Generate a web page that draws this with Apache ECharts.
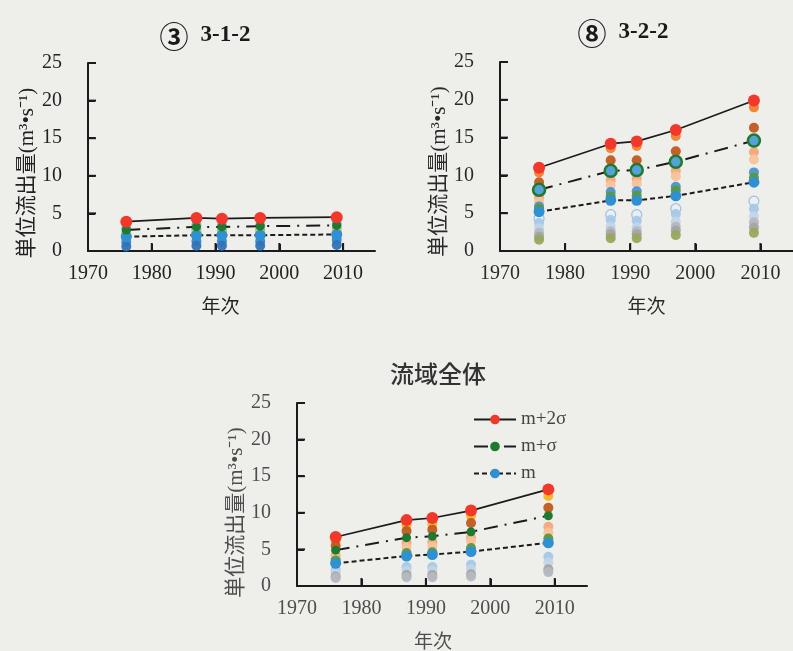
<!DOCTYPE html>
<html>
<head>
<meta charset="utf-8">
<script src="https://cdn.jsdelivr.net/npm/echarts@6/dist/echarts.min.js"></script>
<style>
  html, body { margin: 0; padding: 0; background: #eeeeeb; }
  #chart { width: 793px; height: 651px; }
</style>
</head>
<body>
<div id="chart"></div>
<script>
// ---- shared axes ----
const years = [1976, 1987, 1991, 1997, 2009];
const yearTicks = [1970, 1980, 1990, 2000, 2010];
const flowTicks = [0, 5, 10, 15, 20, 25];
const legendNames = ['m+2σ', 'm+σ', 'm'];
const yName = '単位流出量(m³•s⁻¹)';
const xName = '年次';

// ---- ③ 3-1-2 ----
const m2s312 = [3.9, 4.4, 4.3, 4.4, 4.5];
const ms312 = [2.8, 3.2, 3.2, 3.3, 3.4];
const m312 = [1.9, 2.1, 2.1, 2.1, 2.2];
const sky312 = [3.0, 3.4, 3.4, 3.4, 3.6];
const lime312 = [2.4, 2.8, 2.8, 2.8, 3.1];
const pale312 = [2.1, 2.4, 2.4, 2.4, 2.6];
const peach312 = [1.8, 2.0, 2.0, 2.0, 2.4];
const blue312 = [1.2, 1.3, 1.3, 1.3, 1.5];
const navy312 = [0.6, 0.7, 0.7, 0.7, 0.8];

// ---- ⑧ 3-2-2 ----
const m2s322 = [11.0, 14.2, 14.5, 16.0, 19.9];
const ms322 = [8.1, 10.6, 10.7, 11.8, 14.6];
const m322 = [5.2, 6.7, 6.7, 7.3, 9.1];
const orange322 = [10.4, 13.6, 13.9, 15.2, 19.0];
const brown322 = [9.1, 12.0, 12.0, 13.2, 16.3];
const peach322 = [7.1, 9.4, 9.6, 10.6, 13.1];
const salmon322 = [6.5, 8.7, 8.9, 9.9, 12.1];
const steel322 = [5.9, 7.8, 7.9, 8.5, 10.4];
const green322 = [5.6, 7.2, 7.3, 8.0, 9.7];
const white322 = [4.3, 4.8, 4.8, 5.6, 6.6];
const lightblue322 = [3.7, 4.1, 4.0, 4.9, 5.6];
const paleblue322 = [3.0, 3.2, 3.1, 3.9, 4.6];
const greyblue322 = [2.4, 2.6, 2.6, 3.2, 3.8];
const grey322 = [1.9, 2.2, 2.2, 2.7, 3.1];
const olive322 = [1.5, 1.7, 1.7, 2.1, 2.4];

// ---- 流域全体 ----
const m2sAll = [6.7, 9.0, 9.3, 10.3, 13.2];
const msAll = [4.9, 6.6, 6.8, 7.4, 9.6];
const mAll = [3.1, 4.1, 4.3, 4.7, 5.9];
const amberAll = [6.1, 8.3, 8.5, 9.6, 12.3];
const brownAll = [5.5, 7.5, 7.7, 8.6, 10.7];
const peachAll = [4.2, 5.9, 6.0, 6.6, 8.1];
const salmonAll = [3.8, 5.3, 5.4, 6.1, 7.3];
const greenAll = [3.5, 4.5, 4.6, 5.2, 6.5];
const lightblueAll = [2.2, 2.6, 2.6, 2.9, 4.0];
const palebuleAll = [1.8, 2.1, 2.1, 2.3, 3.2];
const greyAll = [1.3, 1.5, 1.5, 1.6, 2.3];
const oliveAll = [1.1, 1.2, 1.2, 1.3, 1.9];

// ---- styling ----
const SERIF = "'Liberation Serif', 'Noto Sans CJK JP', serif";
const CJK = "'Noto Sans CJK JP', sans-serif";
const INK = '#1b1b1b';

const tone = {
  red: '#f2382b', mgreen: '#1f7a2f', mblue: '#2f90d2',
  sky: '#6aa6dc', lime: '#8cc63f', pale: '#a9d18e', blue: '#3a86cc', navy: '#2f73b8',
  orange: '#ef7f2c', amber: '#f4b41f', brown: '#c1591d', peach: '#f4a57c', salmon: '#f7c39b',
  steel: '#4b91d2', green: '#5a9a34', white: '#e7eef6', lightblue: '#a5c8e8',
  paleblue: '#c2d4e6', greyblue: '#b3b9c0', grey: '#a4a4a4', olive: '#97a85c'
};

const grids = [
  { left: 88, top: 63, width: 287, height: 188 },
  { left: 500, top: 62, width: 296, height: 189 },
  { left: 297, top: 403, width: 290, height: 183 }
];
const labelInk = ['#222', '#2a2a2a', '#4d4d4d'];
const yNameGap = [43, 37, 46];
const yNameShift = [32, 30, 36];
const xNameShift = [22, 0, 18];

function pairs(values) {
  return years.map((y, i) => [y, values[i]]).filter(p => p[1] != null);
}

const tickStyle = { show: true, inside: true, length: 7, lineStyle: { color: INK, width: 2 } };

function xAxisFor(i) {
  return {
    type: 'value', gridIndex: i, min: 1970, max: 2015, interval: 10,
    axisLine: { show: true, onZero: false, lineStyle: { color: INK, width: 2 } },
    axisTick: tickStyle,
    axisLabel: { showMaxLabel: false,
      formatter: v => (yearTicks.indexOf(v) >= 0 ? String(v) : ''), margin: 13,
      fontFamily: SERIF, fontSize: 20, color: labelInk[i] },
    splitLine: { show: false },
    name: xName, nameLocation: 'middle', nameGap: 45,
    nameTextStyle: { fontFamily: CJK, fontSize: 19, color: labelInk[i], padding: [0, xNameShift[i], 0, 0] }
  };
}

function yAxisFor(i) {
  return {
    type: 'value', gridIndex: i, min: 0, max: 25, interval: 5,
    axisLine: { show: true, onZero: false, lineStyle: { color: INK, width: 2 } },
    axisTick: tickStyle,
    axisLabel: { formatter: v => (flowTicks.indexOf(v) >= 0 ? String(v) : ''), margin: 26,
      fontFamily: SERIF, fontSize: 20, color: labelInk[i] },
    splitLine: { show: false },
    name: yName, nameLocation: 'middle', nameRotate: 90, nameGap: yNameGap[i],
    nameTextStyle: { fontFamily: SERIF, fontSize: 21, color: labelInk[i], padding: [0, yNameShift[i], 0, 0] }
  };
}

// short inward tick marks placed on the axes through the grid's own scales
function tickMarks(i) {
  const onX = yearTicks.slice(1).map(v => [v, 0]);
  const onY = flowTicks.slice(1).map(v => [yearTicks[0], v]);
  const base = { type: 'scatter', xAxisIndex: i, yAxisIndex: i, symbol: 'rect', silent: true,
    clip: false, z: 6, itemStyle: { color: INK, opacity: 1 } };
  return [
    Object.assign({}, base, { data: onX, symbolSize: [2, 8], symbolOffset: [0, -4] }),
    Object.assign({}, base, { data: onY, symbolSize: [8, 2], symbolOffset: [4, 0] })
  ];
}

function dots(i, values, color, size, border) {
  return {
    type: 'scatter', xAxisIndex: i, yAxisIndex: i, data: pairs(values),
    symbol: 'circle', symbolSize: size || 10, z: 2, silent: true,
    itemStyle: { color: color, opacity: 0.95, borderColor: border || color, borderWidth: border ? 1.2 : 0 }
  };
}

function statLine(i, name, values, kind, marker) {
  const dash = kind === 'solid' ? 'solid' : (kind === 'dashdot' ? [14, 7, 2, 7] : [5, 3]);
  return Object.assign({
    type: 'line', name: name, xAxisIndex: i, yAxisIndex: i, data: pairs(values),
    symbol: 'circle', z: 4,
    lineStyle: { color: INK, width: kind === 'solid' ? 1.6 : 2, type: dash },
    emphasis: { disabled: true }
  }, marker);
}

const redMark = { symbolSize: 12, itemStyle: { color: tone.red } };
const greenMark = { symbolSize: 9, itemStyle: { color: tone.mgreen } };
const ringMark = { symbolSize: 12, itemStyle: { color: '#55a2d8', borderColor: tone.mgreen, borderWidth: 2.5 } };
const blueMark = { symbolSize: 11, itemStyle: { color: tone.mblue } };

const series = [
  // 流域全体 (named for the legend)
  dots(2, amberAll, tone.amber), dots(2, brownAll, tone.brown), dots(2, peachAll, tone.peach),
  dots(2, salmonAll, tone.salmon), dots(2, greenAll, tone.green), dots(2, lightblueAll, tone.lightblue),
  dots(2, palebuleAll, tone.paleblue), dots(2, greyAll, tone.grey), dots(2, oliveAll, tone.greyblue),
  statLine(2, legendNames[2], mAll, 'dashed', blueMark),
  statLine(2, legendNames[1], msAll, 'dashdot', greenMark),
  statLine(2, legendNames[0], m2sAll, 'solid', redMark),

  // ③ 3-1-2
  dots(0, sky312, tone.sky), dots(0, lime312, tone.lime), dots(0, pale312, tone.pale),
  dots(0, peach312, tone.peach), dots(0, blue312, tone.blue), dots(0, navy312, tone.navy),
  statLine(0, '3-1-2 m', m312, 'dashed', blueMark),
  statLine(0, '3-1-2 m+σ', ms312, 'dashdot', greenMark),
  statLine(0, '3-1-2 m+2σ', m2s312, 'solid', redMark),

  // ⑧ 3-2-2
  dots(1, orange322, tone.orange), dots(1, brown322, tone.brown), dots(1, peach322, tone.peach),
  dots(1, salmon322, tone.salmon), dots(1, steel322, tone.steel), dots(1, green322, tone.green),
  dots(1, white322, tone.white, 10, '#9fbbd9'), dots(1, lightblue322, tone.lightblue),
  dots(1, paleblue322, tone.paleblue), dots(1, greyblue322, tone.greyblue),
  dots(1, grey322, tone.grey), dots(1, olive322, tone.olive),
  statLine(1, '3-2-2 m', m322, 'dashed', blueMark),
  statLine(1, '3-2-2 m+σ', ms322, 'dashdot', ringMark),
  statLine(1, '3-2-2 m+2σ', m2s322, 'solid', redMark)
].concat(tickMarks(0), tickMarks(1), tickMarks(2));

const titleRich = {
  c: { fontFamily: CJK, fontSize: 29, color: '#1a1a1a', padding: [2, 0, 0, 0] },
  t: { fontFamily: SERIF, fontSize: 23, fontWeight: 'bold', color: '#1a1a1a', padding: [0, 0, 0, 12] }
};

const option = {
  backgroundColor: '#eeeeeb',
  animation: false,
  title: [
    { text: '{c|③}{t|3-1-2}', left: 200, top: 15, textAlign: 'center', textStyle: { rich: titleRich } },
    { text: '{c|⑧}{t|3-2-2}', left: 618, top: 12, textAlign: 'center', textStyle: { rich: titleRich } },
    { text: '流域全体', left: 433, top: 357, textAlign: 'center',
      textStyle: { fontFamily: CJK, fontSize: 24, fontWeight: 500, color: '#333' } }
  ],
  legend: {
    data: legendNames, orient: 'vertical', left: 468, top: 405,
    itemWidth: 42, itemHeight: 12, itemGap: 8,
    textStyle: { fontFamily: SERIF, fontSize: 19, color: '#444' },
    selectedMode: false
  },
  grid: grids,
  xAxis: grids.map((g, i) => xAxisFor(i)),
  yAxis: grids.map((g, i) => yAxisFor(i)),
  series: series
};

const chart = echarts.init(document.getElementById('chart'), null, { renderer: 'canvas' });
chart.setOption(option);
</script>
</body>
</html>
